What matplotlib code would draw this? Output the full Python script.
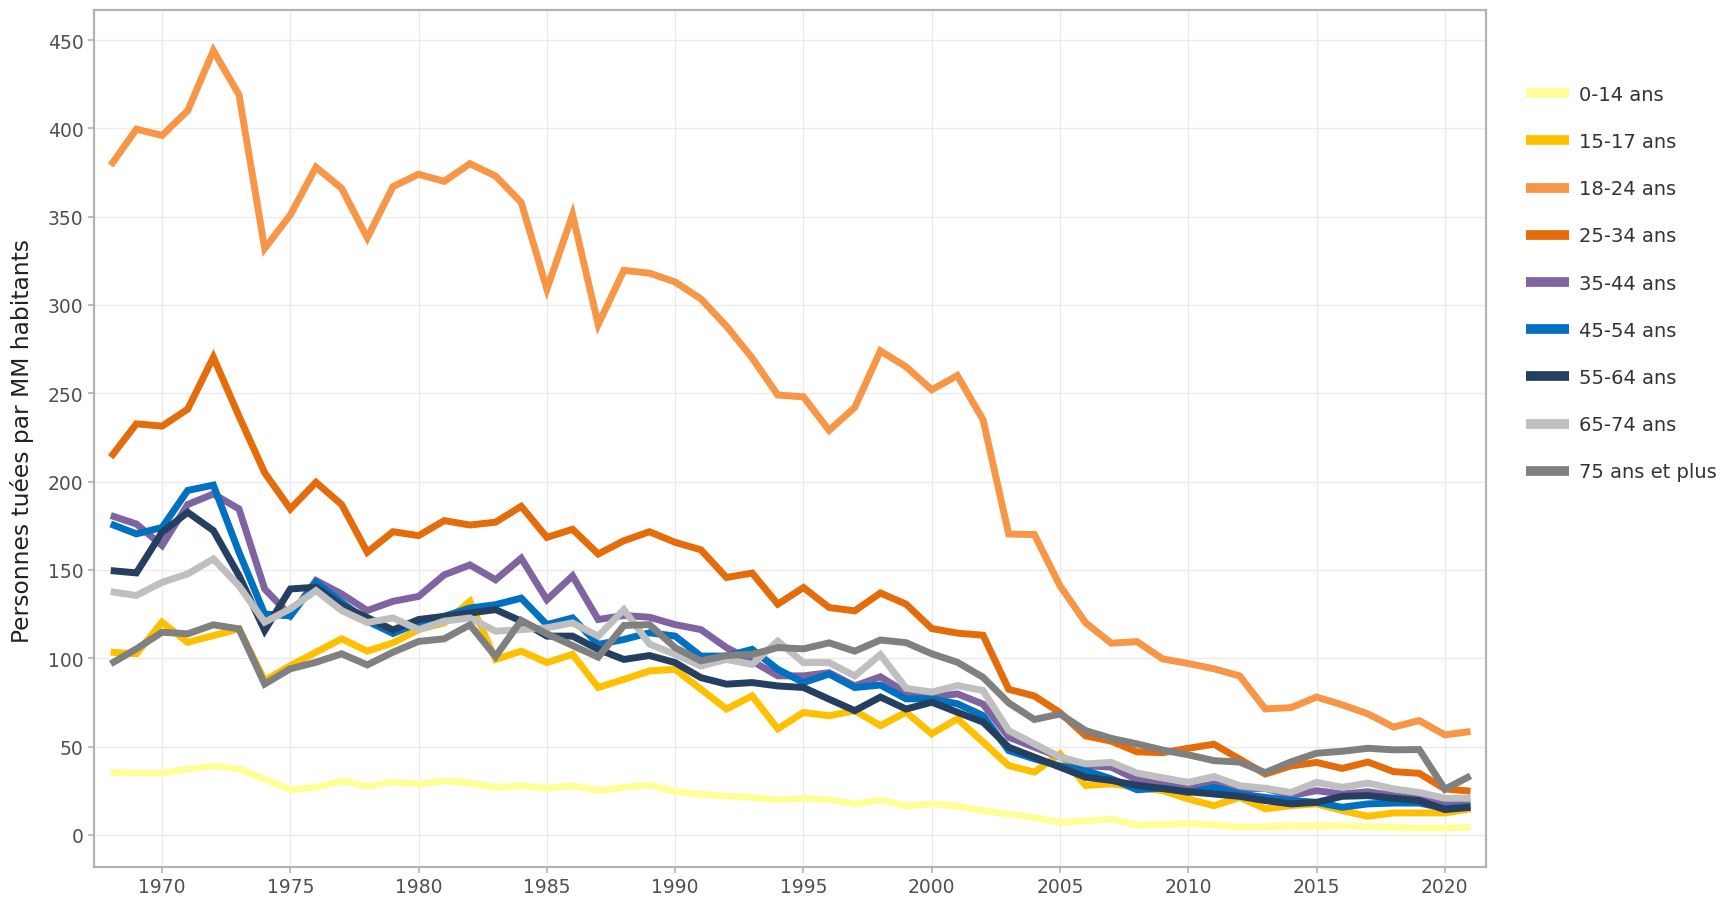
import matplotlib
matplotlib.use("Agg")
import matplotlib.pyplot as plt
import numpy as np

years = list(range(1968, 2022))

age_0_14 = [35.3, 35, 34.8, 37.2, 39, 37.2, 31.6, 25.5, 26.8, 30.6, 27.4, 30, 28.7, 30.6, 29.3, 26.8, 27.8, 26.3, 27.8, 25,
            26.8, 28.2, 24.4, 23, 22, 21.2, 19.8, 20.6, 19.8, 17.4, 19.8, 16.4, 17.4, 16.4, 13.6, 11.7, 9.8, 7, 7.9, 8.9,
            5.5, 5.8, 6.4, 5.7, 4.4, 4.6, 5, 5.1, 5, 4.6, 4.3, 3.9, 3.9, 4.2]
age_15_17 = [103.4, 102.5, 120.4, 109, 112.8, 116.6, 87.4, 95.8, 103.4, 111, 104, 108.7, 116.2, 120, 132.2, 99.3, 104, 97.5, 102.2, 83.4,
             88, 92.8, 93.7, 82.5, 71.2, 78.7, 60, 69.3, 67.4, 70.3, 61.8, 69.4, 57.2, 65.7, 52.5, 39.2, 35.5, 45.8, 27.9, 28.9,
             27, 25, 20.3, 16.5, 21.2, 14.7, 16.5, 17.5, 13.7, 10.5, 12.4, 12.4, 12.4, 14.7]
age_18_24 = [379, 399.5, 396, 410, 444, 419, 332, 351, 378, 366, 338, 367, 374, 370, 380, 373, 358, 309, 351, 289,
             319.6, 318, 313, 303.5, 288, 270, 249, 248, 229, 242, 274, 265, 252, 260, 235, 170.3, 170, 141, 120, 108.5,
             109.4, 99.6, 97, 94, 90, 71.3, 72, 78, 73.6, 68.5, 61, 64.7, 56.6, 58.5]
age_25_34 = [213.8, 232.7, 231.4, 241, 270.4, 237, 205, 184.5, 199.6, 187, 160, 171.6, 169.4, 177.9, 175.4, 177, 186, 168.4, 173, 159,
             166.5, 171.6, 165.6, 161.4, 145.7, 148.2, 130.6, 140, 128.7, 126.8, 136.9, 130.6, 116.8, 114.2, 113, 82.4, 78.6, 69.2, 56, 53,
             47, 46.5, 49, 51.3, 42.9, 34.4, 39, 41, 37.6, 41.2, 35.8, 34.8, 26, 24.7]
age_35_44 = [180.8, 176, 163.8, 187, 193, 184.5, 139.2, 124, 144, 136.4, 127, 132.2, 135, 147.2, 152.8, 144.4, 156.6, 133.1, 146.6, 121.9,
             124.2, 123.2, 119, 116.2, 106, 98.4, 90, 90, 91.8, 84.3, 89.5, 80.5, 78, 79.8, 74, 55.3, 49.6, 44, 39.2, 38.3,
             31.2, 28.4, 26, 28.8, 26, 26.3, 22.2, 25, 23.1, 24.4, 22.2, 20.7, 18.4, 18.8]
age_45_54 = [176, 170.4, 174, 195, 198, 160, 125, 124, 143, 131.7, 121, 114, 120, 123.7, 128.4, 130.3, 134, 119, 122.8, 107.8,
             110.6, 114.4, 112.5, 101.2, 101.2, 105, 93.7, 86.2, 91, 83.4, 84.8, 77, 77, 74.2, 67.5, 47.7, 43, 39, 36.4, 31.7,
             25.5, 26.5, 24, 26.9, 23.1, 21.2, 19.4, 18.4, 15.6, 17.5, 18, 18, 15, 16]
age_55_64 = [149.6, 148.3, 171.3, 182.6, 172.3, 146.8, 115.7, 139.2, 140.2, 129.8, 123, 116, 121.9, 123.7, 125.6, 127.5, 121, 112.5, 112.5, 105,
             99.3, 101.5, 97.5, 89, 85.3, 86.2, 84.3, 83.4, 76.8, 70.3, 78, 71.2, 75.1, 69.4, 63.8, 49.6, 44, 38.3, 32.6, 30.8,
             28, 26.2, 24.4, 23.1, 21.8, 19.4, 17.5, 18.4, 21.8, 22.2, 20.7, 19.4, 14.3, 15.6]
age_65_74 = [137.7, 135.5, 143, 147.7, 156.2, 141, 120.4, 128, 138.3, 127, 120.2, 122.8, 116.2, 121, 122.8, 115.3, 116.2, 117.2, 120, 112.5,
             127.5, 108, 102.2, 95.6, 99.3, 96.5, 109.7, 97.5, 97.5, 90, 102, 83, 80.8, 84.5, 81.7, 59, 51.5, 44, 40.2, 41,
             35, 32.3, 29.7, 33, 27.8, 26.3, 24, 29.7, 26.9, 29.3, 26, 24, 20.7, 20.7]
age_75_plus = [96.8, 105.3, 114.7, 113.8, 118.9, 116.6, 85.4, 94, 97.7, 102.5, 96.2, 103.4, 109.5, 111, 118.9, 101, 121.4, 113.8, 107.2, 100.6,
               118.5, 119, 106, 98.5, 101.5, 102.2, 106, 105.3, 108.7, 104, 110.3, 108.8, 102.5, 97.7, 89.2, 74.7, 65.3, 68.4, 59, 54.6,
               51.5, 48, 45.3, 42, 41.2, 35.2, 41.3, 46.2, 47.3, 49, 48.1, 48.3, 25.8, 33.4]

labels = ["0-14 ans", "15-17 ans", "18-24 ans", "25-34 ans", "35-44 ans",
          "45-54 ans", "55-64 ans", "65-74 ans", "75 ans et plus"]
series = [age_0_14, age_15_17, age_18_24, age_25_34, age_35_44,
          age_45_54, age_55_64, age_65_74, age_75_plus]
colors = ["#ffff99", "#ffc000", "#f79646", "#e46c0a", "#8064a2",
          "#0070c0", "#243f60", "#bfbfbf", "#808080"]

x_ticks = list(range(1970, 2021, 5))
y_ticks = list(range(0, 451, 50))

plt.rcParams['font.family'] = ['DejaVu Sans']

fig = plt.figure(figsize=(17.29, 9.03), dpi=100)
ax = fig.add_axes([0.0544, 0.0388, 0.8050, 0.9490])

for vals, lab, col in zip(series, labels, colors):
    ax.plot(years, vals, color=col, lw=5.0, label=lab,
            solid_joinstyle='miter', solid_capstyle='butt')

ax.set_xlim(1967.35, 2021.6)
ax.set_ylim(-18.2, 467)
ax.set_xticks(x_ticks)
ax.set_yticks(y_ticks)
ax.grid(True, color="#ebebeb", lw=1.0)
ax.set_axisbelow(True)
for sp in ax.spines.values():
    sp.set_color("#b3b3b3")
    sp.set_linewidth(1.6)
ax.tick_params(axis='both', colors="#b3b3b3", labelcolor="#505050",
               labelsize=13.5, length=4, width=1.2)

fig.text(0.0127, 0.512, "Personnes tuées par MM habitants", rotation=90,
         ha='center', va='center', fontsize=16.8, color="#222222")

leg = ax.legend(loc='upper left', bbox_to_anchor=(0.878, 0.9136),
                bbox_transform=fig.transFigure, frameon=False,
                fontsize=14, handlelength=2.2, handleheight=0.6,
                labelspacing=1.45, handletextpad=0.55, borderaxespad=0)
for h in leg.get_lines():
    h.set_linewidth(7)
for t in leg.get_texts():
    t.set_color("#333333")

fig.savefig("out.png", dpi=100, facecolor="white")
